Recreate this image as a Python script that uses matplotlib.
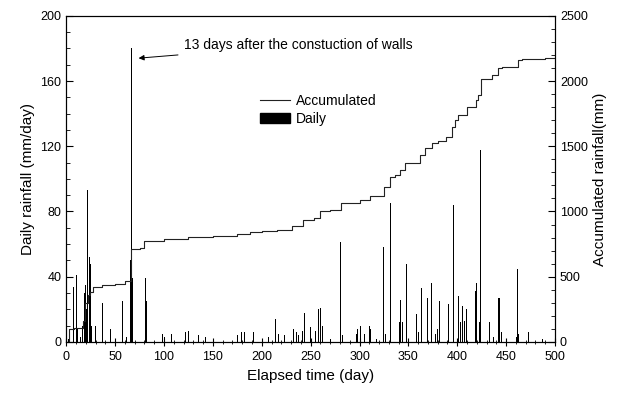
import matplotlib.pyplot as plt
from matplotlib.ticker import MultipleLocator
from matplotlib.patches import Patch
from matplotlib.lines import Line2D

plt.rcParams['font.family'] = ['Liberation Sans', 'DejaVu Sans']

# Daily rainfall (mm/day)
daily_day = [2, 7, 10, 12, 15, 17, 19, 20, 21, 22, 24, 25, 26, 30, 37, 45, 58, 62,
             66, 67, 68, 81, 82, 98, 101, 108, 122, 125, 135, 142, 175, 179, 182,
             192, 207, 214, 217, 223, 232, 233, 236, 238, 242, 244, 250, 255, 258,
             260, 262, 270, 281, 283, 297, 298, 301, 305, 310, 311, 317, 325, 327,
             332, 341, 342, 344, 348, 358, 360, 363, 367, 370, 374, 378, 380, 382,
             391, 396, 401, 403, 405, 407, 409, 419, 420, 423, 424, 433, 437, 442,
             443, 445, 461, 462, 463, 473, 487]
daily_mm = [2, 34, 41, 8, 3, 10, 30, 35, 20, 93, 52, 48, 10, 10, 24, 8, 25, 3,
            50, 180, 39, 39, 25, 5, 3, 5, 6, 7, 4, 3, 4, 6, 6,
            6, 3, 14, 5, 4, 8, 18, 6, 4, 7, 18, 9, 7, 20,
            21, 10, 2, 61, 4, 5, 8, 10, 5, 10, 8, 2, 58, 5,
            85, 12, 26, 12, 48, 17, 6, 33, 10, 27, 36, 5, 8, 25,
            23, 84, 28, 12, 22, 13, 20, 31, 36, 12, 118, 12, 3, 27,
            27, 6, 3, 45, 5, 6, 2]

# Accumulated rainfall (mm)
acc_day = [0, 3, 8, 17, 19, 22, 24, 27, 37, 50, 60, 66, 75, 80, 100, 125, 150, 175,
           188, 200, 216, 231, 242, 253, 260, 270, 281, 300, 311, 325, 331, 336,
           341, 347, 362, 367, 374, 380, 389, 395, 398, 401, 410, 419, 421, 424,
           436, 442, 446, 462, 466, 490, 500]
acc_mm = [0, 100, 107, 160, 300, 360, 383, 420, 437, 445, 467, 713, 720, 775, 790,
          805, 815, 825, 843, 848, 862, 890, 935, 950, 1005, 1015, 1066, 1089, 1115,
          1189, 1265, 1280, 1319, 1373, 1434, 1488, 1526, 1541, 1572, 1649, 1702,
          1741, 1802, 1856, 1894, 2017, 2048, 2101, 2109, 2162, 2170, 2178, 2178]

fig, ax = plt.subplots(figsize=(6.25, 3.94), dpi=100)
fig.subplots_adjust(left=0.106, right=0.888, top=0.96, bottom=0.132)

ax.bar(daily_day, daily_mm, width=1.0, color='black', linewidth=0)
ax.set_xlim(0, 500)
ax.set_ylim(0, 200)
ax.set_xlabel("Elapsed time (day)", fontsize=11)
ax.set_ylabel("Daily rainfall (mm/day)", fontsize=11)
ax.xaxis.set_major_locator(MultipleLocator(50))
ax.xaxis.set_minor_locator(MultipleLocator(10))
ax.yaxis.set_major_locator(MultipleLocator(40))
ax.yaxis.set_minor_locator(MultipleLocator(10))
ax.tick_params(axis='x', which='both', direction='inout', labelsize=9)
ax.tick_params(axis='x', which='major', length=6)
ax.tick_params(axis='x', which='minor', length=3)
ax.tick_params(axis='y', which='both', direction='in', labelsize=9)
ax.tick_params(axis='y', which='major', length=5)
ax.tick_params(axis='y', which='minor', length=3)

ax2 = ax.twinx()
ax2.plot(acc_day, acc_mm, drawstyle='steps-post', color='#222222', linewidth=0.8)
ax2.set_ylim(0, 2500)
ax2.set_ylabel("Accumulated rainfall(mm)", fontsize=11)
ax2.yaxis.set_major_locator(MultipleLocator(500))
ax2.yaxis.set_minor_locator(MultipleLocator(100))
ax2.tick_params(axis='y', which='both', direction='in', labelsize=9)
ax2.tick_params(axis='y', which='major', length=5)
ax2.tick_params(axis='y', which='minor', length=3)

ax.annotate("13 days after the constuction of walls", xy=(74, 174), xytext=(120, 182),
            fontsize=10, va='center',
            arrowprops=dict(arrowstyle='-|>', color='black', lw=0.7,
                            mutation_scale=8, shrinkA=2, shrinkB=0))

handles = [Line2D([0], [0], color='#222222', lw=0.8),
           Patch(facecolor='black', edgecolor='black')]
ax.legend(handles, ["Accumulated", "Daily"], loc='upper left',
          bbox_to_anchor=(0.37, 0.8), frameon=False, fontsize=10,
          handlelength=2.2, handletextpad=0.4, labelspacing=0.3)

fig.savefig("out.png", dpi=100)
